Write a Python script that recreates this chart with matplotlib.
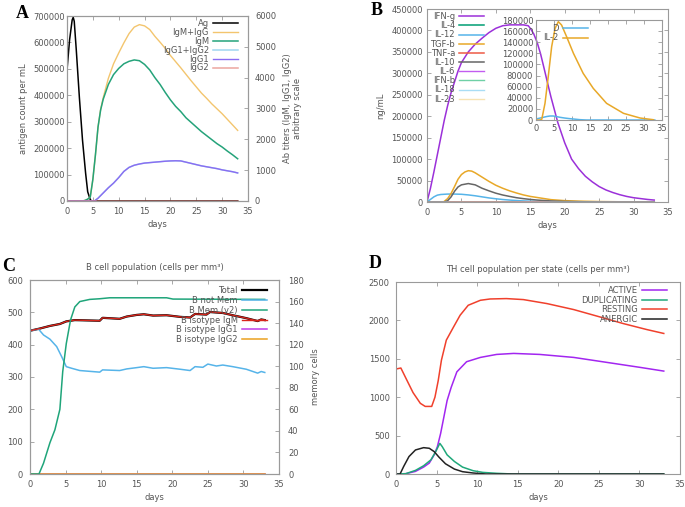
import matplotlib
matplotlib.use("Agg")
import matplotlib.pyplot as plt

W, H = 685, 507
FS = 6.0
SPINE = "#9a9a9a"
TEXT = "#555555"

# ---------- A: antigen and antibody titres ----------
ag_days = [0, 0.02, 0.5, 1.0, 1.2, 1.4, 1.8, 2.4, 3.0, 3.6, 4.0, 4.5, 4.8, 33]
ag_count = [0, 500000, 610000, 685000, 695000, 680000, 570000, 390000, 230000, 105000, 35000, 5000, 0, 0]

ab_days = [0, 3.0, 3.5, 4.0, 4.5, 5.0, 5.5, 6.0, 6.5, 7, 8, 9, 10, 11, 12, 13, 14, 15, 16, 17,
           18, 19, 20, 21, 22, 23, 24, 25, 26, 27, 28, 29, 30, 31, 32, 33]
igm = [0, 0, 20, 60, 130, 700, 1500, 2400, 2950, 3300, 3780, 4100, 4300, 4450, 4530, 4575, 4550,
       4430, 4250, 4000, 3780, 3520, 3280, 3070, 2900, 2700, 2550, 2400, 2250, 2120, 1990, 1860,
       1750, 1620, 1500, 1370]
igm_igg = [0, 0, 20, 60, 130, 700, 1500, 2400, 2970, 3350, 3980, 4450, 4800, 5130, 5430, 5640,
           5720, 5680, 5560, 5340, 5150, 4950, 4720, 4520, 4320, 4110, 3900, 3700, 3500, 3330,
           3150, 2990, 2830, 2650, 2470, 2290]
igg_days = [0, 5.3, 6, 7, 8, 9, 10, 11, 12, 13, 14, 15, 16, 17, 18, 19, 20, 21, 22, 23, 24, 25,
            26, 27, 28, 29, 30, 31, 32, 33]
igg1 = [0, 0, 90, 260, 430, 580, 760, 960, 1090, 1160, 1200, 1230, 1245, 1260, 1275, 1290, 1300,
        1305, 1300, 1260, 1220, 1180, 1140, 1110, 1080, 1050, 1010, 980, 950, 910]
igg1_igg2 = igg1
flat_days = [0, 33]
igg2 = [0, 0]

# ---------- B: cytokines ----------
ifng_days = [0, 0.5, 1, 1.5, 2, 2.5, 3, 3.5, 4, 4.5, 5, 6, 7, 8, 9, 10, 11, 12, 13, 14, 14.7,
             15, 15.5, 16, 16.5, 17, 17.5, 18, 19, 20, 21, 22, 23, 24, 25, 26, 27, 28, 29, 30,
             31, 32, 33]
ifng = [0, 32000, 70000, 110000, 150000, 190000, 225000, 255000, 280000, 305000, 325000, 350000,
        368000, 382000, 395000, 405000, 411000, 413000, 413000, 413000, 411000, 405000, 392000,
        372000, 345000, 312000, 278000, 245000, 185000, 138000, 100000, 78000, 60000, 47000,
        36000, 28000, 22000, 17000, 13000, 10000, 8000, 6000, 4500]
il12_days = [0, 0.5, 1, 1.5, 2, 3, 4, 5, 6, 7, 8, 9, 10, 11, 12, 13, 14, 16, 18, 20, 24, 33]
il12 = [0, 6000, 12000, 16000, 17500, 18500, 18500, 18000, 16500, 14500, 12000, 9500, 7500, 5800,
        4500, 3400, 2500, 1300, 600, 300, 0, 0]
tgfb_days = [0, 2.4, 3, 3.5, 4, 4.5, 5, 5.5, 6, 6.5, 7, 8, 9, 10, 11, 12, 13, 14, 15, 16, 17, 18,
             20, 22, 25, 28, 33]
tgfb = [0, 0, 8000, 20000, 36000, 53000, 64000, 70000, 73000, 72000, 68000, 58000, 48000, 39000,
        32000, 26000, 21000, 16500, 13000, 10500, 8000, 5500, 3200, 2000, 1000, 500, 200]
il10_days = [0, 2.5, 3, 3.5, 4, 4.5, 5, 6, 7, 8, 9, 10, 11, 12, 13, 14, 15, 16, 18, 20, 23, 26, 33]
il10 = [0, 0, 3000, 12000, 25000, 35000, 40000, 43000, 40000, 32000, 26000, 20500, 16300, 13000,
        10000, 7800, 6000, 4500, 2500, 1300, 500, 0, 0]
zero_cyt = [0, 0]

# inset: D and IL-2
d_days = [0, 2.0, 3.0, 3.9, 4.8, 5.8, 6.7, 8, 9.4, 11, 12.2, 14, 33]
d_signal = [1800, 4800, 6300, 7200, 7200, 6000, 4800, 3500, 2400, 1400, 600, 0, 0]
il2_days = [0, 1.0, 1.6, 2.5, 3.4, 4.35, 5.3, 6.2, 7.1, 8.5, 10.4, 13.1, 15.9, 19.6, 24.3, 28.9,
            32.6]
il2 = [0, 0, 1200, 30000, 78000, 132000, 165000, 177000, 171000, 150000, 120000, 84000, 57000,
       30000, 12000, 3600, 500]

# ---------- C: B cell population ----------
total_days = [0, 1.4, 2.8, 4.2, 5.1, 6.3, 9.8, 10.2, 12.6, 13.6, 15, 16, 17.3, 19.2, 21.1, 22.5,
              23.2, 24.8, 25.3, 27.1, 28.5, 30.4, 32, 32.5, 33]
b_total = [443, 450, 458, 464, 472, 476, 474, 483, 480, 487, 492, 494, 490, 491, 486, 484, 495,
           493, 501, 498, 491, 482, 473, 478, 476]
b_igm = b_total
notmem_days = [0, 1.2, 1.9, 2.8, 3.75, 4.45, 5.1, 5.85, 7, 9.8, 10.2, 12.6, 13.6, 15, 16, 17.3,
               19.2, 21.1, 22.5, 23.2, 24.3, 25, 26.2, 27.1, 28.5, 30.4, 32, 32.5, 33]
b_not_mem = [443, 448, 430, 417, 394, 363, 332, 327, 320, 315, 322, 320, 325, 329, 332, 327, 329,
             324, 320, 332, 330, 340, 334, 337, 332, 324, 312, 317, 314]
mem_days = [0, 1.26, 1.9, 2.8, 3.5, 4.2, 4.6, 5.1, 5.7, 6.3, 7.0, 8.4, 9.8, 11.2, 19.2, 20.1, 33]
b_mem = [0, 0, 10, 29, 41, 60, 95, 121, 143, 155, 160, 162, 162.6, 163.5, 163.5, 162.3, 162]
b_igg = [0, 0]

# ---------- D: TH cell population per state ----------
active_days = [0, 1.2, 2.4, 3.4, 4.1, 4.7, 5.1, 5.5, 5.9, 6.3, 6.8, 7.5, 8.7, 10.4, 12.4, 14.5,
               17.7, 21.9, 26, 30.1, 33]
active = [0, 4, 34, 90, 142, 249, 356, 528, 742, 957, 1128, 1330, 1462, 1518, 1557, 1570, 1557,
          1518, 1453, 1388, 1340]
dup_days = [0, 1.2, 2.4, 3.4, 4.3, 4.9, 5.4, 5.7, 6.3, 7.2, 8.2, 9.5, 10.7, 12.4, 14.4, 33]
duplicating = [0, 4, 47, 107, 184, 292, 399, 356, 249, 163, 90, 43, 21, 9, 0, 0]
rest_days = [0, 0.6, 1.3, 2.1, 3.0, 3.6, 4.4, 4.8, 5.2, 5.6, 6.2, 7.1, 7.9, 8.9, 10.4, 11.6, 13.6,
             15.7, 18.6, 21.9, 25.1, 28.0, 30.9, 33]
resting = [1367, 1380, 1230, 1060, 920, 880, 880, 1000, 1214, 1483, 1743, 1916, 2067, 2197, 2262,
           2279, 2284, 2271, 2219, 2141, 2046, 1959, 1881, 1830]
anergic_days = [0, 0.5, 0.95, 1.6, 2.4, 3.4, 4.1, 4.7, 5.3, 6.1, 7.2, 8.2, 9.5, 11.1, 33]
anergic = [0, 0, 99, 227, 313, 343, 335, 292, 219, 133, 64, 30, 13, 0, 0]


def px_axes(fig, left, top, right, bottom):
    return fig.add_axes([left / W, 1 - bottom / H, (right - left) / W, (bottom - top) / H])


def style(ax, right=True, ypad=3):
    for s in ax.spines.values():
        s.set_color(SPINE)
        s.set_linewidth(0.8)
    ax.tick_params(direction="in", length=3, width=0.6, color=SPINE, labelcolor=TEXT,
                   labelsize=FS, top=True, right=right)
    ax.tick_params(axis="x", pad=4)
    ax.tick_params(axis="y", pad=ypad)
    ax.set_xlim(0, 35)
    ax.set_xticks(range(0, 36, 5))


def style_y2(ax2, pad):
    for s in ax2.spines.values():
        s.set_color(SPINE)
        s.set_linewidth(0.8)
    ax2.tick_params(direction="in", length=3, width=0.6, color=SPINE, labelcolor=TEXT,
                    labelsize=FS, pad=pad)


def legend(ax, handles, x, y, spacing=0.0, hl=3.0):
    leg = ax.legend(handles=handles, loc="upper right", bbox_to_anchor=(x, y), frameon=False,
                    markerfirst=False, fontsize=FS, labelspacing=spacing, handlelength=hl,
                    handletextpad=0.5, borderpad=0, borderaxespad=0, labelcolor=TEXT)
    return leg


fig = plt.figure(figsize=(W / 100, H / 100), dpi=100)

# ---- A ----
ax = px_axes(fig, 67, 16, 248, 201)
style(ax, right=False, ypad=1.5)
ax2 = ax.twinx()
style_y2(ax2, pad=5)
ax.tick_params(right=False)
h_ag, = ax.plot(ag_days, ag_count, color="black", lw=1.1, label="Ag")
h1, = ax2.plot(ab_days, igm_igg, color="#F3C56E", lw=1.0, label="IgM+IgG")
h2, = ax2.plot(ab_days, igm, color="#25A37A", lw=1.1, label="IgM")
h3, = ax2.plot(igg_days, igg1_igg2, color="#9FD6F0", lw=1.1, label="IgG1+IgG2")
h4, = ax2.plot(igg_days, igg1, color="#8B6CF2", lw=1.0, label="IgG1")
h5, = ax2.plot(flat_days, igg2, color="#E06A60", lw=1.1, alpha=0.6, label="IgG2")
ax.set_ylim(0, 700000)
ax.set_yticks(range(0, 700001, 100000))
ax2.set_ylim(0, 6000)
ax2.set_yticks(range(0, 6001, 1000))
ax.set_xlabel("days", fontsize=FS, color=TEXT, labelpad=3)
ax.set_ylabel("antigen count per mL", fontsize=FS, color=TEXT, labelpad=4)
ax2.set_ylabel("Ab titers (IgM, IgG1, IgG2)\narbitrary scale", fontsize=FS, color=TEXT,
               labelpad=5)
legend(ax2, [h_ag, h1, h2, h3, h4, h5], 0.945, 0.982, spacing=-0.02)
fig.text(16 / W, 1 - 18 / H, "A", fontsize=13, fontweight="bold", family="Liberation Serif")

# ---- B ----
ax = px_axes(fig, 427, 9, 668, 202)
style(ax, ypad=3)
lines = [
    ax.plot(ifng_days, ifng, color="#9B30D9", lw=1.1, label="IFN-g")[0],
    ax.plot(flat_days, zero_cyt, color="#009E73", lw=1.1, label="IL-4")[0],
    ax.plot(il12_days, il12, color="#56B4E9", lw=1.1, label="IL-12")[0],
    ax.plot(tgfb_days, tgfb, color="#E8A828", lw=1.1, label="TGF-b")[0],
    ax.plot(flat_days, zero_cyt, color="#EE5A45", lw=1.1, label="TNF-a")[0],
    ax.plot(il10_days, il10, color="#666666", lw=1.1, label="IL-10")[0],
    ax.plot(flat_days, zero_cyt, color="#C25CF0", lw=1.0, label="IL-6")[0],
    ax.plot(flat_days, zero_cyt, color="#6FD0A6", lw=1.0, label="IFN-b")[0],
    ax.plot(flat_days, zero_cyt, color="#A9DDF5", lw=1.0, label="IL-18")[0],
    ax.plot(flat_days, zero_cyt, color="#F5DCA0", lw=1.0, alpha=0.8, label="IL-23")[0],
]
ax.set_ylim(0, 450000)
ax.set_yticks(range(0, 450001, 50000))
ax.set_xlabel("days", fontsize=FS, color=TEXT, labelpad=3)
ax.set_ylabel("ng/mL", fontsize=FS, color=TEXT, labelpad=4)
legend(ax, lines, 0.237, 0.984, spacing=0.02)
fig.text(371 / W, 1 - 15 / H, "B", fontsize=13, fontweight="bold", family="Liberation Serif")

axi = px_axes(fig, 536, 20, 662, 120)
axi.patch.set_alpha(0)
style(axi, ypad=2)
hd, = axi.plot(d_days, d_signal, color="#56B4E9", lw=1.1, label="D")
hil2, = axi.plot(il2_days, il2, color="#E8A828", lw=1.1, label="IL-2")
axi.set_ylim(0, 180000)
axi.set_yticks(range(0, 180001, 20000))
axi.tick_params(axis="x", pad=3)
legend(axi, [hd, hil2], 0.41, 0.96, spacing=0.05)

# ---- C ----
ax = px_axes(fig, 30, 280, 279, 474)
style(ax, right=False, ypad=5)
ax2 = ax.twinx()
style_y2(ax2, pad=6.5)
c1, = ax.plot(total_days, b_total, color="black", lw=1.6, label="Total")
c2, = ax.plot(notmem_days, b_not_mem, color="#56B4E9", lw=1.1, label="B not Mem")
c4, = ax.plot(total_days, b_igm, color="#D8261C", lw=1.0, label="B isotype IgM")
c5, = ax.plot(flat_days, b_igg, color="#C03CE8", lw=1.1, label="B isotype IgG1")
c6, = ax.plot(flat_days, b_igg, color="#EBA020", lw=1.1, label="B isotype IgG2")
c3, = ax2.plot(mem_days, b_mem, color="#1FA57A", lw=1.1, label="B Mem (y2)")
ax.set_ylim(0, 600)
ax.set_yticks(range(0, 601, 100))
ax2.set_ylim(0, 180)
ax2.set_yticks(range(0, 181, 20))
ax.set_xlabel("days", fontsize=FS, color=TEXT, labelpad=3)
ax2.set_ylabel("memory cells", fontsize=FS, color=TEXT, labelpad=5)
ax.set_title("B cell population (cells per mm³)", fontsize=FS, color=TEXT, pad=7)
legend(ax2, [c1, c2, c3, c4, c5, c6], 0.952, 0.969, spacing=0.1)
fig.text(2 / W, 1 - 271 / H, "C", fontsize=13, fontweight="bold", family="Liberation Serif")

# ---- D ----
ax = px_axes(fig, 396, 282, 680, 474)
style(ax, ypad=4.5)
d1, = ax.plot(active_days, active, color="#A226F0", lw=1.1, label="ACTIVE")
d2, = ax.plot(dup_days, duplicating, color="#1FA87A", lw=1.1, label="DUPLICATING")
d3, = ax.plot(rest_days, resting, color="#F0402C", lw=1.1, label="RESTING")
d4, = ax.plot(anergic_days, anergic, color="#222222", lw=1.1, label="ANERGIC")
ax.set_ylim(0, 2500)
ax.set_yticks(range(0, 2501, 500))
ax.set_xlabel("days", fontsize=FS, color=TEXT, labelpad=3)
ax.set_title("TH cell population per state (cells per mm³)", fontsize=FS, color=TEXT, pad=7)
legend(ax, [d1, d2, d3, d4], 0.954, 0.979, spacing=0.08)
fig.text(369 / W, 1 - 268 / H, "D", fontsize=13, fontweight="bold", family="Liberation Serif")

fig.savefig("out.png", dpi=100)
